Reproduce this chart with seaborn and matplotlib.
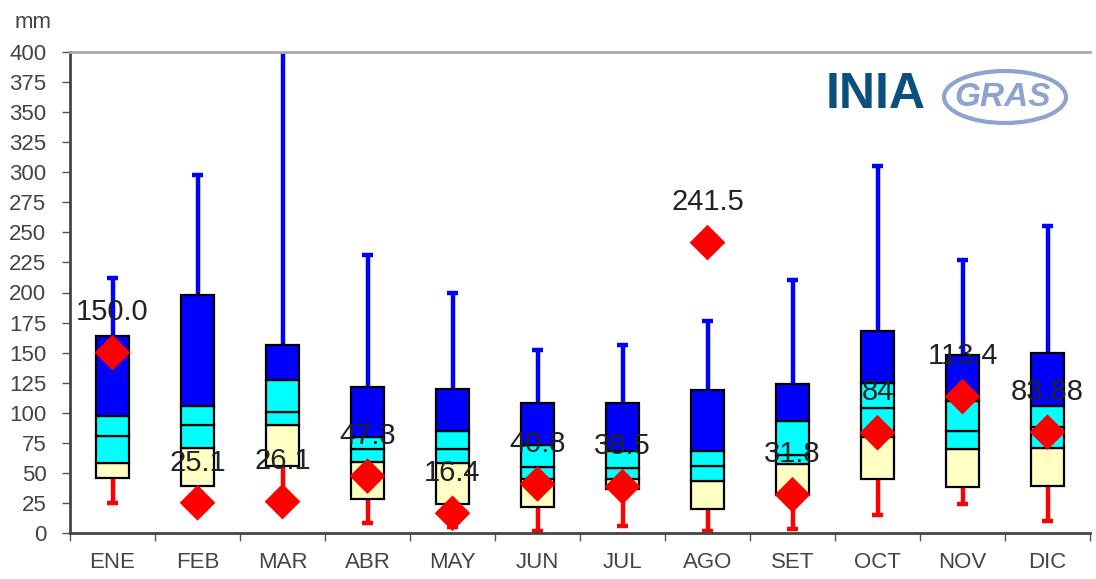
import numpy as np
import matplotlib
matplotlib.use("Agg")
import matplotlib.pyplot as plt
from matplotlib.patches import Ellipse
import seaborn as sns
import pandas as pd

# Monthly precipitation distribution (mm)
months = ['ENE', 'FEB', 'MAR', 'ABR', 'MAY', 'JUN', 'JUL', 'AGO', 'SET', 'OCT', 'NOV', 'DIC']
whisk_min = [25, 25, 26, 8, 5, 2, 6, 2, 3, 15, 24, 10]
box_low = [46, 39, 56, 28, 24, 22, 37, 20, 32, 45, 38, 39]
q1 = [58, 71, 90, 59, 58, 45, 45, 43, 57, 80, 70, 71]
median = [81, 90, 101, 70, 70, 55, 54, 56, 65, 104, 85, 88]
q3 = [97, 106, 127, 80, 85, 73, 68, 68, 93, 125, 110, 106]
box_high = [164, 198, 156, 121, 120, 108, 108, 119, 124, 168, 148, 150]
whisk_max = [212, 298, 420, 231, 200, 152, 156, 176, 210, 305, 227, 255]

# Observed values of the year (red diamonds)
observed = [150.0, 25.1, 26.1, 47.3, 16.4, 40.8, 38.5, 241.5, 31.8, 83.4, 113.4, 83.88]
obs_labels = ['150.0', '25.1', '26.1', '47.3', '16.4', '40.8', '38.5', '241.5', '31.8', '84', '113.4', '83.88']

sns.set_theme(style="white")
plt.rcParams['font.family'] = ['Liberation Sans', 'DejaVu Sans']

fig = plt.figure(figsize=(10.96, 5.79), dpi=100)
ax = fig.add_axes([70 / 1096, 1 - 533 / 579, 1020 / 1096, 481 / 579])

x = np.arange(len(months))
w = 0.39
cap = 0.14

# whiskers (behind the boxes)
ax.vlines(x, box_high, whisk_max, color='#0000ff', lw=3.2, zorder=1)
ax.hlines(whisk_max, x - cap / 2, x + cap / 2, color='#0000ff', lw=3.2, zorder=1)
ax.vlines(x, whisk_min, box_low, color='#ff0000', lw=3.2, zorder=1)
ax.hlines(whisk_min, x - cap / 2, x + cap / 2, color='#ff0000', lw=3.2, zorder=1)

# stacked box segments
segs = [
    (box_low, q1, '#ffffc4'),
    (q1, median, '#00ffff'),
    (median, q3, '#00ffff'),
    (q3, box_high, '#0000ff'),
]
for lo, hi, col in segs:
    ax.bar(x, np.array(hi) - np.array(lo), bottom=lo, width=w, color=col,
           edgecolor='black', linewidth=1.6, zorder=2)

# observed values
df = pd.DataFrame({'mes': x, 'valor': observed})
sns.scatterplot(data=df, x='mes', y='valor', marker='D', color='#ff0000', s=330,
                edgecolor='none', ax=ax, zorder=4, legend=False)
for i, (v, lab) in enumerate(zip(observed, obs_labels)):
    ax.annotate(lab, (i, v), xytext=(0, 29), textcoords='offset points',
                ha='center', va='center', fontsize=21, color='#222222', zorder=5)

# axes styling
ax.set_xlim(-0.5, len(months) - 0.5)
ax.set_ylim(0, 400)
ax.set_yticks(np.arange(0, 401, 25))
ax.set_xticks(x)
ax.set_xticklabels(months)
ax.set_xticks(np.arange(-0.5, len(months), 1), minor=True)
ax.tick_params(axis='x', which='major', length=0, pad=14, labelsize=16, labelcolor='#444444')
ax.tick_params(axis='x', which='minor', length=6, width=1, color='#555555', direction='out', bottom=True)
ax.tick_params(axis='y', length=6, width=1, color='#555555', direction='out', left=True,
               labelsize=16, labelcolor='#444444', pad=11)
ax.set_xlabel('')
ax.set_ylabel('')
for side in ['left', 'bottom']:
    ax.spines[side].set_color('#444444')
    ax.spines[side].set_linewidth(2)
ax.spines['top'].set_color('#aaaaaa')
ax.spines['top'].set_linewidth(2)
ax.spines['right'].set_visible(False)

fig.text(33 / 1096, 1 - 22 / 579, 'mm', ha='center', va='center', fontsize=16, color='#444444')

# logo (as text)
fig.text(826 / 1096, 1 - 95 / 579, 'INIA', ha='left', va='center', fontsize=36,
         fontweight='bold', color='#0b4f7c')
ell = Ellipse((1005 / 1096, 1 - 97 / 579), 122 / 1096, 52 / 579, transform=fig.transFigure,
              fill=False, edgecolor='#8ea3cf', lw=3)
fig.add_artist(ell)
fig.text(1003 / 1096, 1 - 97 / 579, 'GRAS', ha='center', va='center', fontsize=24,
         fontweight='bold', fontstyle='italic', color='#8ea3cf')

fig.savefig('out.png', dpi=100)
